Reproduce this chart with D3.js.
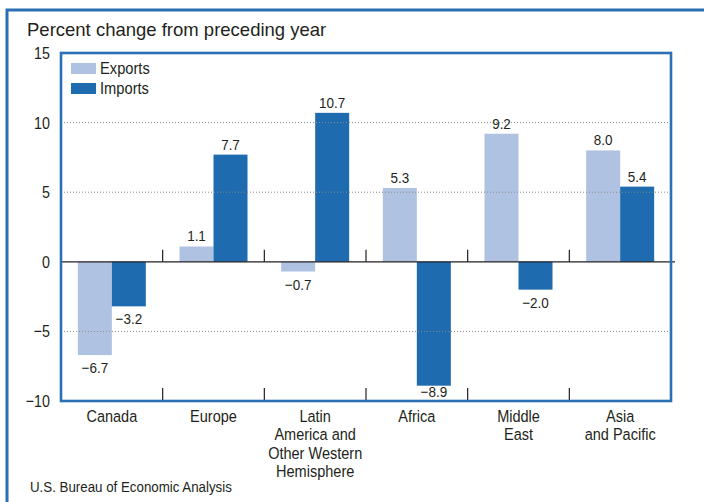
<!DOCTYPE html>
<html>
<head>
<meta charset="utf-8">
<script src="https://cdn.jsdelivr.net/npm/d3@7"></script>
<style>
  body { margin: 0; background: #fff; }
  svg { display: block; }
  text { font-family: "Liberation Sans", Arial, sans-serif; fill: #231f20; }
</style>
</head>
<body>
<svg id="chart" width="704" height="502"></svg>
<script>
const categories = ['Canada', 'Europe', 'Latin America and Other Western Hemisphere', 'Africa', 'Middle East', 'Asia and Pacific'];
const categoryLines = [['Canada'], ['Europe'], ['Latin', 'America and', 'Other Western', 'Hemisphere'], ['Africa'], ['Middle', 'East'], ['Asia', 'and Pacific']];
const exportsPct = [-6.7, 1.1, -0.7, 5.3, 9.2, 8.0];
const importsPct = [-3.2, 7.7, 10.7, -8.9, -2.0, 5.4];
const yTicks = [-10, -5, 0, 5, 10, 15];
const gridTicks = [-5, 5, 10];
const seriesNames = ['Exports', 'Imports'];

const BLUE = '#2b6fb4';
const colors = {Exports: '#b0c2e2', Imports: '#1f6baf'};

const plot = {left: 61, right: 671, top: 53, bottom: 401};
const svg = d3.select('#chart');

const x = d3.scaleBand().domain(categories).range([plot.left, plot.right]);
const y = d3.scaleLinear().domain([-10, 15]).range([plot.bottom, plot.top]);
const barW = 34;

// the type in the original is a narrow grotesque, squeeze it a bit
const place = (px, py, sx) => `translate(${px},${py}) scale(${sx},1)`;

// outer frame (only left and top visible)
svg.append('path')
    .attr('d', 'M7,502 V10 H704')
    .attr('fill', 'none')
    .attr('stroke', BLUE)
    .attr('stroke-width', 3);

svg.append('text')
    .attr('transform', place(27, 36, 1))
    .style('font-size', '18.5px')
    .text('Percent change from preceding year');

// bars
const rows = categories.map((c, i) => ({cat: c, Exports: exportsPct[i], Imports: importsPct[i]}));
const flat = [];
rows.forEach((r) => {
    seriesNames.forEach((s, j) => flat.push({cat: r.cat, series: s, idx: j, value: r[s]}));
});

const barX = (d) => x(d.cat) + x.bandwidth() / 2 - barW + d.idx * barW;

svg.append('g')
    .selectAll('rect')
    .data(flat)
    .join('rect')
    .attr('x', barX)
    .attr('width', barW)
    .attr('y', (d) => y(Math.max(0, d.value)))
    .attr('height', (d) => Math.abs(y(d.value) - y(0)))
    .attr('fill', (d) => colors[d.series]);

// dotted gridlines drawn over the bars
svg.append('g')
    .selectAll('line')
    .data(gridTicks)
    .join('line')
    .attr('x1', plot.left).attr('x2', plot.right)
    .attr('y1', (d) => y(d)).attr('y2', (d) => y(d))
    .attr('stroke', '#8a8a8a')
    .attr('stroke-width', 1)
    .attr('stroke-dasharray', '1,2');

// zero line
svg.append('line')
    .attr('x1', plot.left).attr('x2', plot.right + 4)
    .attr('y1', y(0)).attr('y2', y(0))
    .attr('stroke', '#231f20')
    .attr('stroke-width', 1.3);

// separator ticks
const seps = categories.slice(1).map((c) => x(c));
svg.append('g')
    .selectAll('line')
    .data(seps)
    .join('line')
    .attr('x1', (d) => d).attr('x2', (d) => d)
    .attr('y1', y(0)).attr('y2', y(0) - 12)
    .attr('stroke', '#231f20').attr('stroke-width', 1.2);
svg.append('g')
    .selectAll('line')
    .data(seps)
    .join('line')
    .attr('x1', (d) => d).attr('x2', (d) => d)
    .attr('y1', plot.bottom).attr('y2', plot.bottom - 13)
    .attr('stroke', '#231f20').attr('stroke-width', 1.2);

// plot frame
svg.append('rect')
    .attr('x', plot.left).attr('y', plot.top)
    .attr('width', plot.right - plot.left)
    .attr('height', plot.bottom - plot.top)
    .attr('fill', 'none')
    .attr('stroke', BLUE)
    .attr('stroke-width', 2.6);

// y axis labels
const fmt = (v) => (v < 0 ? '\u2212' + Math.abs(v) : String(v));
svg.append('g')
    .selectAll('text')
    .data(yTicks)
    .join('text')
    .attr('transform', (d) => place(50, y(d) + 6, 0.84))
    .attr('text-anchor', 'end')
    .style('font-size', '17px')
    .text(fmt);

// value labels
const fmtVal = (v) => (v < 0 ? '\u2212' + Math.abs(v).toFixed(1) : v.toFixed(1));
const labelY = (d) => d.value >= 0 ? y(d.value) - 5 : Math.min(y(d.value) + 18, plot.bottom - 4);
svg.append('g')
    .selectAll('text')
    .data(flat)
    .join('text')
    .attr('transform', (d) => place(barX(d) + barW / 2, labelY(d), 0.9))
    .attr('text-anchor', 'middle')
    .style('font-size', '15px')
    .text((d) => fmtVal(d.value));

// category labels
const catG = svg.append('g')
    .selectAll('text')
    .data(categories)
    .join('text')
    .attr('transform', (c) => place(x(c) + x.bandwidth() / 2, 0, 0.88))
    .attr('text-anchor', 'middle')
    .style('font-size', '16.5px');
catG.each(function (c, i) {
    d3.select(this)
        .selectAll('tspan')
        .data(categoryLines[i])
        .join('tspan')
        .attr('x', 0)
        .attr('y', (l, k) => 422 + k * 18.5)
        .text((l) => l);
});

// legend
const legend = svg.append('g')
    .selectAll('g')
    .data(seriesNames)
    .join('g')
    .attr('transform', (d, i) => `translate(71,${63 + i * 20})`);
legend.append('rect')
    .attr('width', 25).attr('height', 11)
    .attr('fill', (d) => colors[d]);
legend.append('text')
    .attr('transform', place(29, 10.5, 0.89))
    .style('font-size', '16.5px')
    .text((d) => d);

svg.append('text')
    .attr('transform', place(30, 492, 0.9))
    .style('font-size', '14.8px')
    .text('U.S. Bureau of Economic Analysis');
</script>
</body>
</html>
